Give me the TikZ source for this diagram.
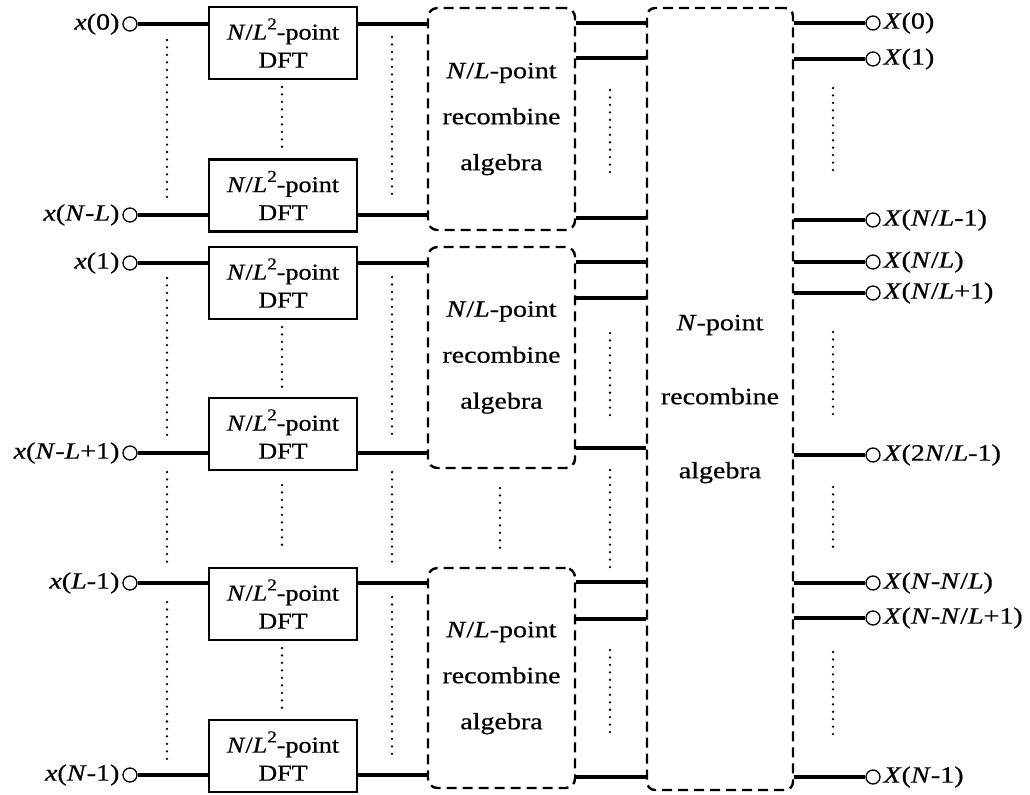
\documentclass[tikz,border=0pt]{standalone}
\usepackage{fontspec}
\setmainfont{Liberation Serif}[FakeStretch=1.2,FakeBold=0.6]
\newfontfamily\boxfont{Liberation Serif}[FakeStretch=1.15,FakeBold=0.6]
\newlength\upx
\setlength\upx{0.75pt}
\newcommand\sqr{\raisebox{0.45em}{\fontsize{12.5}{12.5}\selectfont 2}}
\begin{document}
\begin{tikzpicture}[x=0.75pt,y=-0.75pt,
  wire/.style={line width=2.4pt},
  dotline/.style={line width=1.9pt,line cap=round,dash pattern=on 0pt off 5.6pt},
  dftbox/.style={draw,line width=1.9pt,minimum width=148\upx,minimum height=72\upx,
    inner sep=0pt,align=center,font=\boxfont\fontsize{17}{21}\selectfont},
  recbox/.style={draw,line width=1.8pt,dash pattern=on 7.5pt off 4.5pt,rounded corners=7pt,
    minimum width=147\upx,inner sep=0pt,align=center,font=\fontsize{17.5}{34.5}\selectfont},
  bigbox/.style={draw,line width=1.8pt,dash pattern=on 7.5pt off 4.5pt,rounded corners=6pt,
    minimum width=146\upx,minimum height=782\upx,inner sep=0pt,align=center,
    font=\fontsize{17.5}{55.5}\selectfont},
  port/.style={draw,circle,line width=1pt,minimum size=10.5pt,inner sep=0pt,fill=white},
  inlbl/.style={anchor=east,inner sep=2pt,font=\fontsize{17.5}{20}\selectfont},
  outlbl/.style={anchor=west,inner sep=2pt,font=\fontsize{17.5}{20}\selectfont}]
\useasboundingbox (0,0) rectangle (1030,794);

% first-stage DFT blocks
\node[dftbox] (d1) at (283,43)    {\textit{N}/\textit{L}\sqr-point\\DFT};
\node[dftbox] (d2) at (283,195.5) {\textit{N}/\textit{L}\sqr-point\\DFT};
\node[dftbox] (d3) at (283,283)   {\textit{N}/\textit{L}\sqr-point\\DFT};
\node[dftbox] (d4) at (283,434)   {\textit{N}/\textit{L}\sqr-point\\DFT};
\node[dftbox] (d5) at (283,604)   {\textit{N}/\textit{L}\sqr-point\\DFT};
\node[dftbox] (d6) at (283,756)   {\textit{N}/\textit{L}\sqr-point\\DFT};

% second-stage recombination blocks
\node[recbox,minimum height=222\upx] (r1) at (501.5,119)   {\textit{N}/\textit{L}-point\\recombine\\algebra};
\node[recbox,minimum height=221\upx] (r2) at (501.5,357.5) {\textit{N}/\textit{L}-point\\recombine\\algebra};
\node[recbox,minimum height=220\upx] (r3) at (501.5,678)   {\textit{N}/\textit{L}-point\\recombine\\algebra};

% final recombination block
\node[bigbox] (big) at (720,399) {\textit{N}-point\\recombine\\algebra};

% inputs
\node[port] (i1) at (130,24)  {};
\node[port] (i2) at (130,215) {};
\node[port] (i3) at (130,263) {};
\node[port] (i4) at (130,453) {};
\node[port] (i5) at (130,583) {};
\node[port] (i6) at (130,775) {};
\node[inlbl] (li1) at (i1.west) {\textit{x}(0)};
\node[inlbl] (li2) at (i2.west) {\textit{x}(\textit{N}-\textit{L})};
\node[inlbl] (li3) at (i3.west) {\textit{x}(1)};
\node[inlbl] (li4) at (i4.west) {\textit{x}(\textit{N}-\textit{L}+1)};
\node[inlbl] (li5) at (i5.west) {\textit{x}(\textit{L}-1)};
\node[inlbl] (li6) at (i6.west) {\textit{x}(\textit{N}-1)};

\draw[wire] (i1.east) -- (i1 -| d1.west);  \draw[wire] (d1.east |- i1) -- (r1.west |- i1);
\draw[wire] (i2.east) -- (i2 -| d2.west);  \draw[wire] (d2.east |- i2) -- (r1.west |- i2);
\draw[wire] (i3.east) -- (i3 -| d3.west);  \draw[wire] (d3.east |- i3) -- (r2.west |- i3);
\draw[wire] (i4.east) -- (i4 -| d4.west);  \draw[wire] (d4.east |- i4) -- (r2.west |- i4);
\draw[wire] (i5.east) -- (i5 -| d5.west);  \draw[wire] (d5.east |- i5) -- (r3.west |- i5);
\draw[wire] (i6.east) -- (i6 -| d6.west);  \draw[wire] (d6.east |- i6) -- (r3.west |- i6);

% links between the two recombination stages
\foreach \yy in {23,58,218} {\draw[wire] (r1.east |- 0,\yy) -- (big.west |- 0,\yy);}
\foreach \yy in {262,298,448} {\draw[wire] (r2.east |- 0,\yy) -- (big.west |- 0,\yy);}
\foreach \yy in {582,619,777} {\draw[wire] (r3.east |- 0,\yy) -- (big.west |- 0,\yy);}

% outputs
\node[port] (o1) at (873,23)  {};
\node[port] (o2) at (873,59)  {};
\node[port] (o3) at (873,220) {};
\node[port] (o4) at (873,262) {};
\node[port] (o5) at (873,293) {};
\node[port] (o6) at (873,455) {};
\node[port] (o7) at (873,583) {};
\node[port] (o8) at (873,618) {};
\node[port] (o9) at (873,777) {};
\foreach \o in {o1,o2,o3,o4,o5,o6,o7,o8,o9} {\draw[wire] (big.east |- \o) -- (\o.west);}
\node[outlbl] (lo1) at (o1.east) {\textit{X}(0)};
\node[outlbl] (lo2) at (o2.east) {\textit{X}(1)};
\node[outlbl] (lo3) at (o3.east) {\textit{X}(\textit{N}/\textit{L}-1)};
\node[outlbl] (lo4) at (o4.east) {\textit{X}(\textit{N}/\textit{L})};
\node[outlbl] (lo5) at (o5.east) {\textit{X}(\textit{N}/\textit{L}+1)};
\node[outlbl] (lo6) at (o6.east) {\textit{X}(2\textit{N}/\textit{L}-1)};
\node[outlbl] (lo7) at (o7.east) {\textit{X}(\textit{N}-\textit{N}/\textit{L})};
\node[outlbl] (lo8) at (o8.east) {\textit{X}(\textit{N}-\textit{N}/\textit{L}+1)};
\node[outlbl] (lo9) at (o9.east) {\textit{X}(\textit{N}-1)};

% ellipsis dots
\foreach \a/\b in {40/200,278/440,472/568,602/760} {\draw[dotline] (167,\a) -- (167,\b);}
\foreach \a/\b in {87/150,327/388,485/550,648/710} {\draw[dotline] (282,\a) -- (282,\b);}
\foreach \a/\b in {37/197,277/437,472/567,597/755} {\draw[dotline] (392,\a) -- (392,\b);}
\draw[dotline] (500,488) -- (500,550);
\foreach \a/\b in {90/177,333/420,470/570,650/738} {\draw[dotline] (610,\a) -- (610,\b);}
\foreach \a/\b in {88/175,332/420,487/548,652/740} {\draw[dotline] (833,\a) -- (833,\b);}
\end{tikzpicture}
\end{document}
